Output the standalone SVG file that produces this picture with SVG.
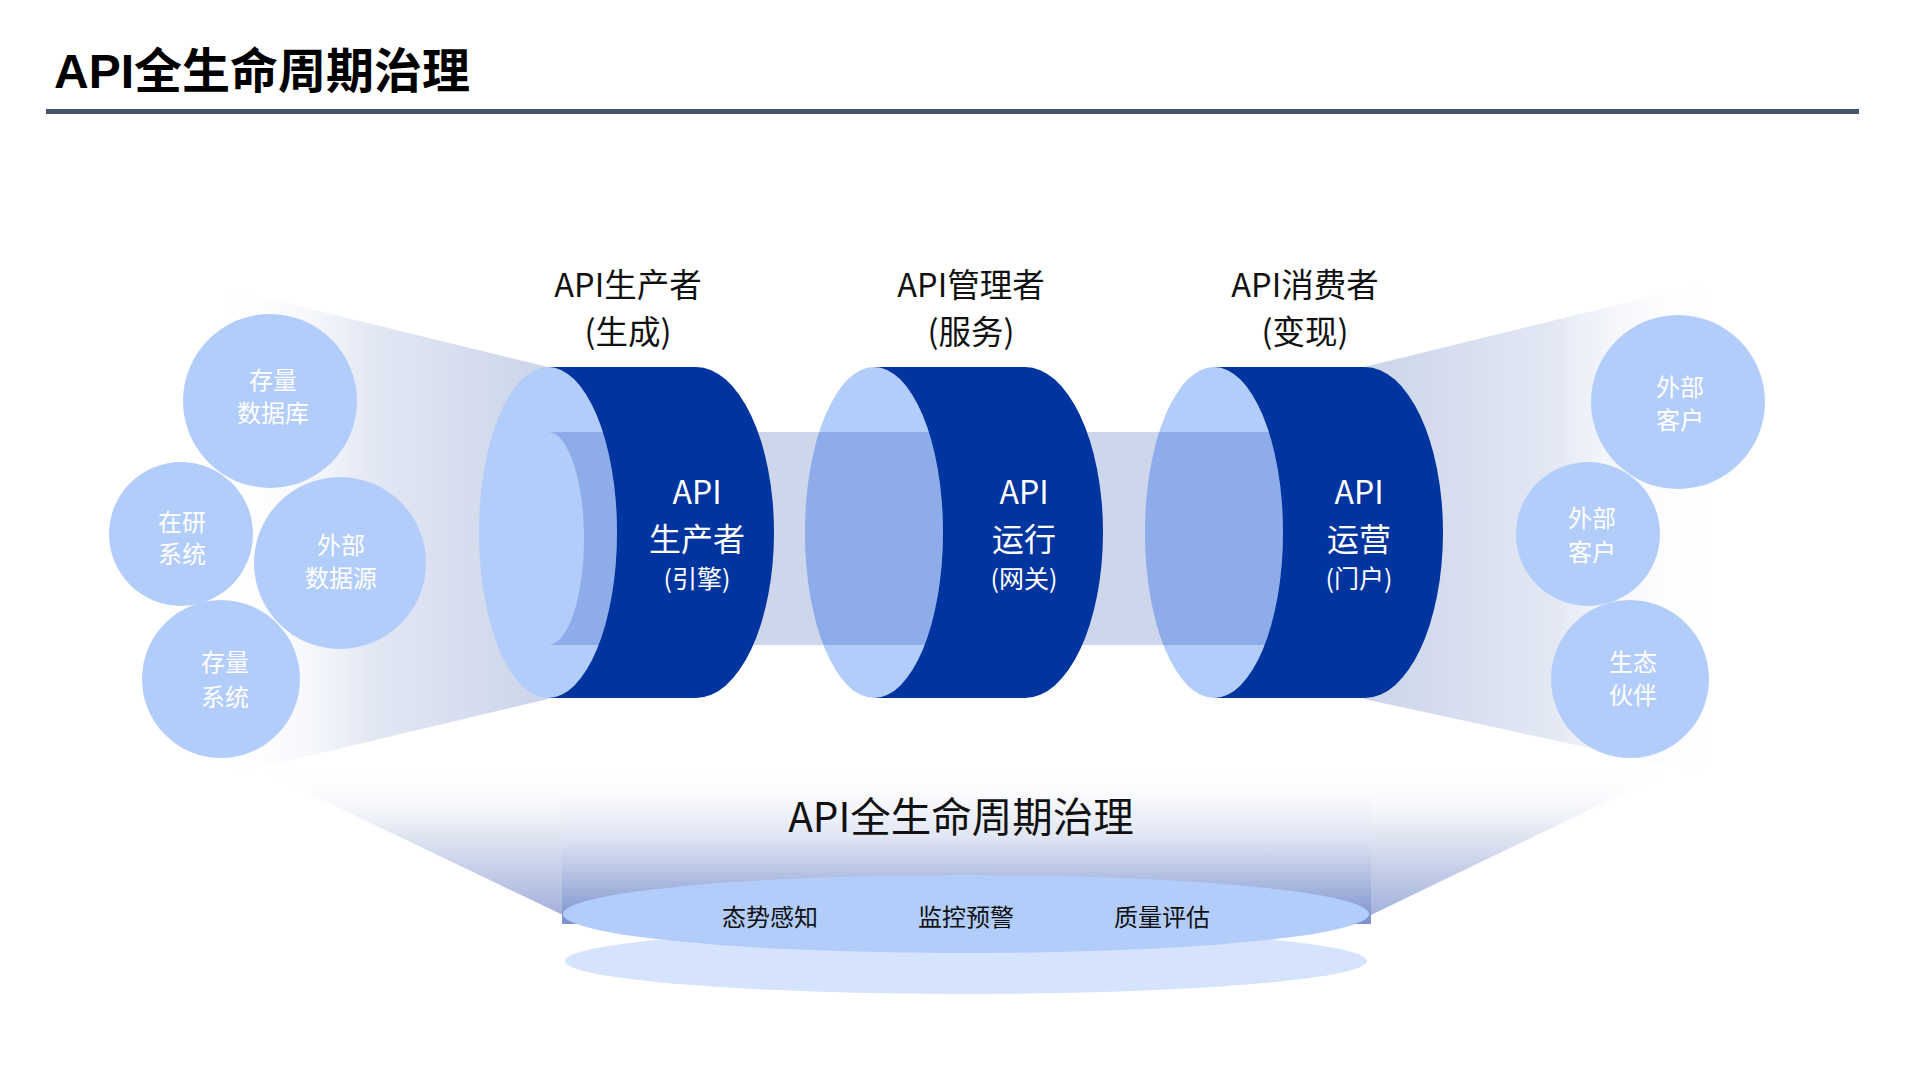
<svg xmlns="http://www.w3.org/2000/svg" width="1920" height="1080" viewBox="0 0 1920 1080">
<style>
  text { font-family: "Noto Sans CJK SC", "Noto Sans", sans-serif; }
  .title { font-family: "Liberation Sans", "Noto Sans CJK SC", sans-serif; font-weight: 700; font-size: 48px; fill: #000; }
  .hdr { font-size: 32.5px; fill: #111; text-anchor: middle; }
  .ct1 { font-size: 32px; fill: #fff; text-anchor: middle; }
  .ct2 { font-size: 25px; fill: #fff; text-anchor: middle; }
  .circ { fill: #b3cdfa; }
  .cirt { font-size: 24px; fill: #fff; text-anchor: middle; }
  .light { fill: #b3cdfa; }
  .mid { fill: #8facea; }
  .dark { fill: #00349e; }
  .band { fill: #cdd6eb; }
  .lbl { font-size: 24px; fill: #111; text-anchor: middle; }
  .big { font-size: 40.5px; fill: #111; text-anchor: middle; }
</style>
<defs>
  <linearGradient id="gL" gradientUnits="userSpaceOnUse" x1="222" y1="0" x2="548" y2="0">
    <stop offset="0" stop-color="#ffffff" stop-opacity="0"/>
    <stop offset="0.45" stop-color="#e3e8f4"/>
    <stop offset="1" stop-color="#cbd4ea"/>
  </linearGradient>
  <linearGradient id="gR" gradientUnits="userSpaceOnUse" x1="1710" y1="0" x2="1364" y2="0">
    <stop offset="0" stop-color="#ffffff" stop-opacity="0"/>
    <stop offset="0.45" stop-color="#e3e8f4"/>
    <stop offset="1" stop-color="#cbd4ea"/>
  </linearGradient>
  <linearGradient id="gB" gradientUnits="userSpaceOnUse" x1="0" y1="770" x2="0" y2="915">
    <stop offset="0" stop-color="#ffffff" stop-opacity="0"/>
    <stop offset="0.45" stop-color="#e0e5f2"/>
    <stop offset="1" stop-color="#a3b2dc"/>
  </linearGradient>
  <linearGradient id="gRect" gradientUnits="userSpaceOnUse" x1="0" y1="778" x2="0" y2="922">
    <stop offset="0" stop-color="#ffffff" stop-opacity="0"/>
    <stop offset="0.4" stop-color="#e2e7f4"/>
    <stop offset="1" stop-color="#7d93ce"/>
  </linearGradient>
  <clipPath id="bandClip">
    <rect x="548" y="432" width="760" height="213"/>
  </clipPath>
</defs>

<g id="title">
  <text class="title" x="54" y="88">API全生命周期治理</text>
  <rect x="46" y="109" width="1813" height="5" fill="#44546a"/>
</g>

<g id="connectors">
  <polygon points="228,289 548,367 548,699 224,776" fill="url(#gL)"/>
  <polygon points="1364,367 1706,283 1710,774 1364,699" fill="url(#gR)"/>
  <polygon points="260,770 1672,770 1371,915 563,915" fill="url(#gB)"/>
  <rect class="band" x="548" y="432" width="760" height="213"/>
</g>

<g id="platform">
  <rect x="562" y="778" width="809" height="146" fill="url(#gRect)"/>
  <text class="big" x="961" y="832">API全生命周期治理</text>
  <ellipse cx="966" cy="961" rx="401" ry="33" fill="#d6e3fc"/>
  <ellipse cx="966" cy="914" rx="403" ry="39" fill="#b3cdfa"/>
  <text class="lbl" x="770" y="926">态势感知</text>
  <text class="lbl" x="966" y="926">监控预警</text>
  <text class="lbl" x="1162" y="926">质量评估</text>
</g>

<g id="src-db">
  <circle class="circ" cx="270" cy="401" r="87"/>
  <text class="cirt" x="273" y="389">存量</text>
  <text class="cirt" x="273" y="422">数据库</text>
</g>
<g id="src-dev">
  <circle class="circ" cx="181" cy="534" r="72"/>
  <text class="cirt" x="182" y="531">在研</text>
  <text class="cirt" x="182" y="563">系统</text>
</g>
<g id="src-ext">
  <circle class="circ" cx="340" cy="563" r="86"/>
  <text class="cirt" x="341" y="554">外部</text>
  <text class="cirt" x="341" y="587">数据源</text>
</g>
<g id="src-sys">
  <circle class="circ" cx="221" cy="679" r="79"/>
  <text class="cirt" x="225" y="671">存量</text>
  <text class="cirt" x="225" y="706">系统</text>
</g>

<g id="dst-cust1">
  <circle class="circ" cx="1678" cy="402" r="87"/>
  <text class="cirt" x="1680" y="396">外部</text>
  <text class="cirt" x="1680" y="429">客户</text>
</g>
<g id="dst-cust2">
  <circle class="circ" cx="1588" cy="534" r="72"/>
  <text class="cirt" x="1592" y="527">外部</text>
  <text class="cirt" x="1592" y="561">客户</text>
</g>
<g id="dst-partner">
  <circle class="circ" cx="1630" cy="679" r="79"/>
  <text class="cirt" x="1633" y="671">生态</text>
  <text class="cirt" x="1633" y="704">伙伴</text>
</g>

<g id="cyl-producer">
  <text class="hdr" x="628" y="297">API生产者</text>
  <text class="hdr" x="628" y="344">(生成)</text>
  <ellipse class="light" cx="548" cy="532.5" rx="69" ry="165.5"/>
  <g clip-path="url(#bandClip)"><ellipse class="mid" cx="548" cy="532.5" rx="69" ry="165.5"/></g>
  <ellipse class="light" cx="548" cy="538.5" rx="36" ry="106.5"/>
  <path class="dark" d="M548,367 L696,367 A78,165.5 0 0 1 696,698 L548,698 A69,165.5 0 0 0 548,367 Z"/>
  <text class="ct1" x="697" y="504">API</text>
  <text class="ct1" x="697" y="551">生产者</text>
  <text class="ct2" x="697" y="588">(引擎)</text>
</g>

<g id="cyl-manager">
  <text class="hdr" x="971" y="297">API管理者</text>
  <text class="hdr" x="971" y="344">(服务)</text>
  <ellipse class="light" cx="874" cy="532.5" rx="69" ry="165.5"/>
  <g clip-path="url(#bandClip)"><ellipse class="mid" cx="874" cy="532.5" rx="69" ry="165.5"/></g>
  <path class="dark" d="M874,367 L1025,367 A78,165.5 0 0 1 1025,698 L874,698 A69,165.5 0 0 0 874,367 Z"/>
  <text class="ct1" x="1024" y="504">API</text>
  <text class="ct1" x="1024" y="551">运行</text>
  <text class="ct2" x="1024" y="588">(网关)</text>
</g>

<g id="cyl-consumer">
  <text class="hdr" x="1305" y="297">API消费者</text>
  <text class="hdr" x="1305" y="344">(变现)</text>
  <ellipse class="light" cx="1214" cy="532.5" rx="69" ry="165.5"/>
  <g clip-path="url(#bandClip)"><ellipse class="mid" cx="1214" cy="532.5" rx="69" ry="165.5"/></g>
  <path class="dark" d="M1214,367 L1365,367 A78,165.5 0 0 1 1365,698 L1214,698 A69,165.5 0 0 0 1214,367 Z"/>
  <text class="ct1" x="1359" y="504">API</text>
  <text class="ct1" x="1359" y="551">运营</text>
  <text class="ct2" x="1359" y="588">(门户)</text>
</g>
</svg>
